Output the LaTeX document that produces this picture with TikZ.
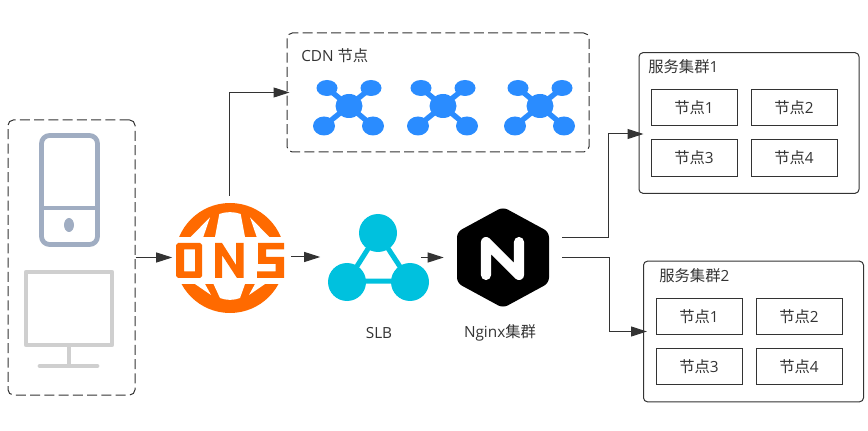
\documentclass[tikz,border=0pt]{standalone}
\usepackage{fontspec}
\setmainfont{Open Sans}
\newfontfamily\cjk{Noto Sans CJK SC}
\usetikzlibrary{positioning, arrows.meta}
\definecolor{linegray}{HTML}{333333}
\definecolor{dnsorange}{HTML}{FF6A00}
\definecolor{cdnblue}{HTML}{2A8CFF}
\definecolor{slbcyan}{HTML}{00C1DE}
\definecolor{phonegray}{HTML}{A0ADC2}
\definecolor{screengray}{HTML}{CFCFCF}
\tikzset{
    every node/.style={font=\fontsize{11.5}{13}\selectfont, text=linegray, inner sep=0pt},
    flow/.style={draw=linegray, line width=0.75pt, -{Triangle[length=12pt, width=7.5pt]}},
    dashbox/.style={rectangle, draw=linegray, line width=0.75pt, rounded corners=4pt, dash pattern=on 7.5pt off 3.2pt},
    cluster/.style={rectangle, draw=linegray, line width=0.75pt, rounded corners=3pt, minimum width=165pt, minimum height=105.5pt},
    nodebox/.style={rectangle, draw=linegray, line width=0.75pt, minimum width=64.5pt, minimum height=27.5pt},
    icon/.style={rectangle},
    title/.style={anchor=west},
}
\newcommand{\zh}[1]{{\cjk #1}}
% one blue cdn icon, #1 is the x of its hub
\newcommand{\cdnicon}[1]{
    \begin{scope}[shift={(#1,106)}]
        \draw[cdnblue, line width=4pt] (-22,-18) -- (24,20) (22,-18) -- (-25,20);
        \fill[cdnblue] (0,0) ellipse (13.5 and 12);
        \fill[cdnblue] (-22,-18) ellipse (10.5 and 8);
        \fill[cdnblue] (22,-18) ellipse (10.5 and 8);
        \fill[cdnblue] (-25,20) ellipse (11 and 9.5);
        \fill[cdnblue] (24,20) ellipse (11 and 9.5);
    \end{scope}
}
\begin{document}
\begin{tikzpicture}[x=0.75pt, y=-0.75pt]
    \useasboundingbox (0,0) rectangle (868,431);
    % phone and screen
    \draw[phonegray, line width=3.6pt, rounded corners=6pt] (41.5,135.5) rectangle (97.5,244.5);
    \draw[phonegray, line width=3.4pt] (41.5,208) -- (97.5,208);
    \fill[phonegray] (69,225) ellipse (5 and 7);
    \draw[screengray, line width=3.4pt, line join=round] (26,272) rectangle (112,345);
    \draw[screengray, line width=3.4pt] (69,345) -- (69,366);
    \draw[screengray, line width=3.6pt, line cap=round] (40,366) -- (97,366);
    % dns globe
    \fill[dnsorange] (230,258) circle (55);
    \fill[white] (170,237) rectangle (290,284);
    \fill[white] (215,237) -- (219.3,214) .. controls (226,211.5) and (234,211.5) .. (240.7,214) -- (245,237) -- cycle;
    \fill[white] (190.7,237) -- (203.3,237) -- (210,217.3) -- cycle;
    \fill[white] (269.3,237) -- (256.7,237) -- (250,217.3) -- cycle;
    \fill[white] (213.5,284) -- (245,284) -- (240,298) .. controls (234,300.5) and (226,300.5) .. (220,298) -- cycle;
    \fill[white] (195,284) -- (205,284) -- (211,295) -- cycle;
    \fill[white] (265,284) -- (255,284) -- (249,295) -- cycle;
    \fill[dnsorange, even odd rule] (176,245) -- (178,243) -- (200,243) -- (202,245) -- (202,276) -- (200,278) -- (178,278) -- (176,276) -- cycle
        (184,249.5) rectangle (195,271.5);
    \fill[dnsorange] (215,278) -- (215,243) -- (222,243) -- (236,265) -- (236,243) -- (243.5,243) -- (243.5,278) -- (237,278) -- (222,255) -- (222,278) -- cycle;
    \fill[dnsorange] (258,243) -- (284,243) -- (284,249.5) -- (266,249.5) -- (266,257) -- (284,257) -- (284,278) -- (257,278) -- (257,271.5) -- (275.5,271.5) -- (275.5,264) -- (258,264) -- cycle;
    % cdn icons
    \cdnicon{349}
    \cdnicon{443}
    \cdnicon{540}
    % slb triangle
    \draw[slbcyan, line width=3.75pt] (378,233) -- (347,282) (378,233) -- (410,282) (347,281) -- (410,281);
    \fill[slbcyan] (378,233) circle (19);
    \fill[slbcyan] (347,282) circle (19);
    \fill[slbcyan] (410,282) circle (19);
    % nginx hexagon
    \fill[black, rounded corners=4pt] (503,207) -- (549,232) -- (549,283) -- (503,308) -- (457,283) -- (457,232) -- cycle;
    \draw[white, line width=7.6pt, line cap=round, line join=round] (486,275) -- (486,242) -- (519,275) -- (519,242);

    \node [dashbox, minimum width=95.25pt, minimum height=206.25pt] (clients) at (71.5,257.5) {};
    \node [icon, minimum width=82.5pt, minimum height=91.5pt] (dns) at (229.5,257) {};
    \node [icon, minimum width=63pt, minimum height=66pt] (slb) at (378.5,257.5) {};
    \node (slbtext) at (379,333) {SLB};
    \node [icon, minimum width=88.5pt, minimum height=76pt] (nginx) at (503,257.5) {};
    \node (nginxtext) at (500,333) {Nginx\zh{集群}};

    \node [dashbox, minimum width=226.5pt, minimum height=89.25pt] (cdn) at (438,92.5) {};
    \node [title] (cdntitle) at (301,56) {CDN \zh{节点}};

    \node [cluster] (groupa) at (749,123) {};
    \node [title] (groupatitle) at (648,67) {\zh{服务集群}1};
    \node [nodebox] (a1) at (694,107.5) {\zh{节点}1};
    \node [nodebox] (a2) [right=9.75pt of a1] {\zh{节点}2};
    \node [nodebox] (a3) at (694,158) {\zh{节点}3};
    \node [nodebox] (a4) [right=9.75pt of a3] {\zh{节点}4};

    \node [cluster] (groupb) at (753.5,331.5) {};
    \node [title] (groupbtitle) at (659,276) {\zh{服务集群}2};
    \node [nodebox] (b1) at (699,316.5) {\zh{节点}1};
    \node [nodebox] (b2) [right=9.75pt of b1] {\zh{节点}2};
    \node [nodebox] (b3) at (699,366.5) {\zh{节点}3};
    \node [nodebox] (b4) [right=9.75pt of b3] {\zh{节点}4};

    \coordinate (benda) at (608,237.5);
    \coordinate (bendb) at (609.5,257.5);
    \draw[flow, shorten >=1.5pt] (clients.east) -- (clients.east -| dns.west);
    \draw[flow, shorten <=4.9pt, shorten >=12pt] (dns.east) -- (dns.east -| slb.west);
    \draw[flow] (slb.east) -- (nginx.west);
    \draw[flow, shorten >=-2.25pt] (dns.north) |- (cdn.west);
    \draw[flow] ([yshift=15pt]nginx.east) -- (benda) |- ([xshift=3.75pt, yshift=-8.25pt]groupa.west);
    \draw[flow, shorten >=-3pt] (nginx.east) -- (bendb) |- (groupb.west);
\end{tikzpicture}
\end{document}
